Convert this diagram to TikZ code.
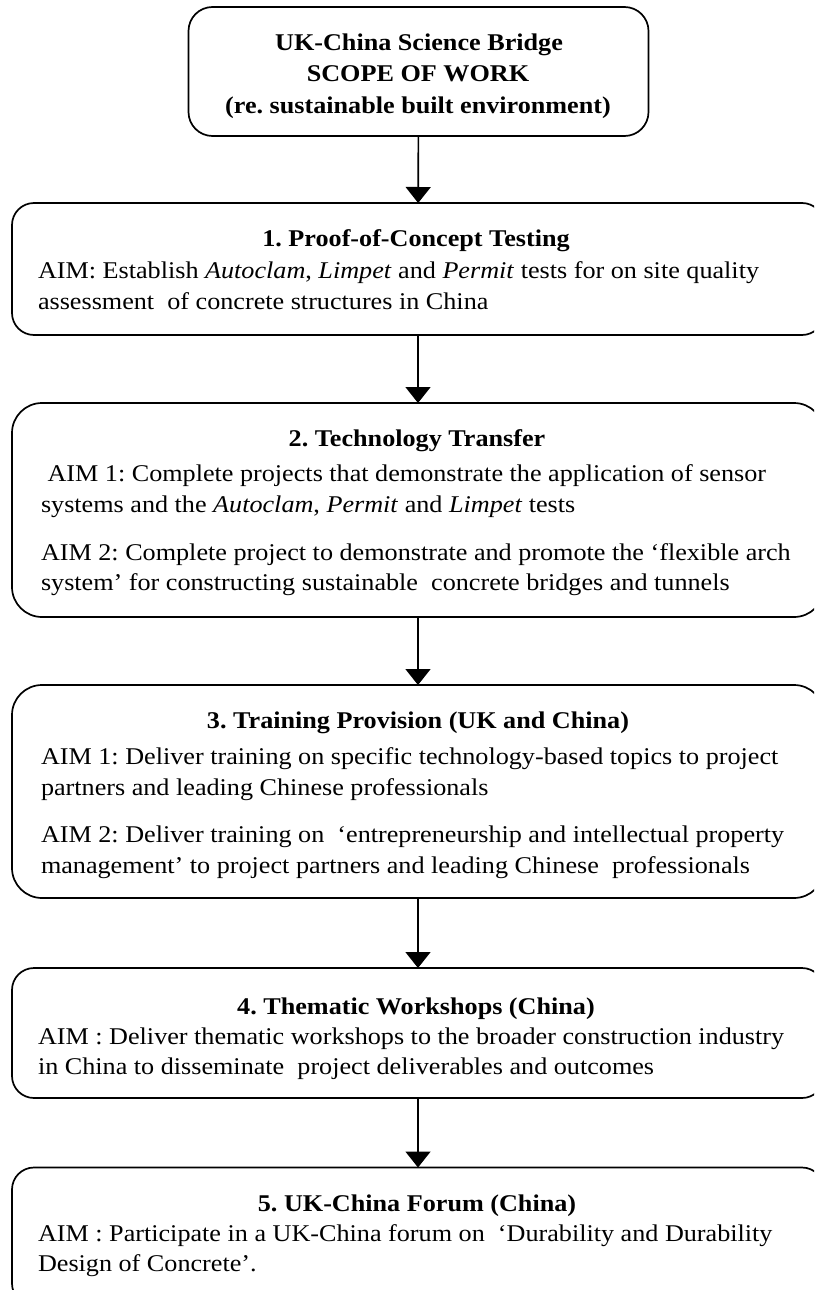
\documentclass[tikz,border=0pt]{standalone}
\usepackage{fontspec}
\setmainfont{Liberation Serif}[FakeStretch=1.09]
\usetikzlibrary{arrows.meta}
\frenchspacing
\begin{document}
\begin{tikzpicture}[x=1pt,y=-1pt,
  stage/.style={draw=black, line width=1.7pt, rounded corners=#1, inner sep=0pt, outer sep=0pt},
  stage/.default=22pt,
  flow/.style={draw=black, line width=1.6pt, -{Triangle[width=25pt,length=16pt]}},
  txt/.style={inner sep=0pt, outer sep=0pt, font=\fontsize{24}{30}\selectfont},
  head/.style={txt, anchor=base, font=\fontsize{24}{30}\selectfont\bfseries},
  body/.style={txt, anchor=base west}]
\useasboundingbox (0,0) rectangle (814,1290);
\clip (0,0) rectangle (814,1290);

% stage boxes
\node[stage=24pt, minimum width=460pt, minimum height=129pt] (top) at (418.5,71.5) {};
\node[stage, minimum width=812pt, minimum height=132pt] (b1) at (418,269) {};
\node[stage=30pt, minimum width=812pt, minimum height=214pt] (b2) at (418,510) {};
\node[stage=30pt, minimum width=812pt, minimum height=213pt] (b3) at (418,791.5) {};
\node[stage, minimum width=812pt, minimum height=130pt] (b4) at (418,1033) {};
\node[stage, minimum width=812pt, minimum height=138pt] (b5) at (418,1236.5) {};

% connectors
\draw[flow] (top) -- (b1);
\draw[flow] (b1) -- (b2);
\draw[flow] (b2) -- (b3);
\draw[flow] (b3) -- (b4);
\draw[flow] (b4) -- (b5);

% heading box
\node[head] (t1) at (419,50.5) {UK-China Science Bridge};
\node[head] (t2) at (418,81.5) {SCOPE OF WORK};
\node[head] (t3) at (418,113) {(re. sustainable built environment)};

% stage 1
\node[head] (h1) at (416,246) {1. Proof-of-Concept Testing};
\node[body] (l11) at (38,278.5) {AIM: Establish \textit{Autoclam}, \textit{Limpet} and \textit{Permit} tests for on site quality};
\node[body] (l12) at (38,309) {assessment\ \ of concrete structures in China};

% stage 2
\node[head] (h2) at (417,446) {2. Technology Transfer};
\node[body] (l21) at (41,481) {\ AIM 1: Complete projects that demonstrate the application of sensor};
\node[body] (l22) at (41,512) {systems and the \textit{Autoclam}, \textit{Permit} and \textit{Limpet} tests};
\node[body] (l23) at (41,560) {AIM 2: Complete project to demonstrate and promote the ‘flexible arch};
\node[body] (l24) at (41,590.5) {system’ for constructing sustainable\ \ concrete bridges and tunnels};

% stage 3
\node[head] (h3) at (418,728.5) {3. Training Provision (UK and China)};
\node[body] (l31) at (41,764) {AIM 1: Deliver training on specific technology-based topics to project};
\node[body] (l32) at (41,795) {partners and leading Chinese professionals};
\node[body] (l33) at (41,842) {AIM 2: Deliver training on\ \ ‘entrepreneurship and intellectual property};
\node[body] (l34) at (41,873) {management’ to project partners and leading Chinese\ \ professionals};

% stage 4
\node[head] (h4) at (416,1014) {4. Thematic Workshops (China)};
\node[body] (l41) at (38,1044) {AIM : Deliver thematic workshops to the broader construction industry};
\node[body] (l42) at (38,1074) {in China to disseminate\ \ project deliverables and outcomes};

% stage 5
\node[head] (h5) at (417,1211) {5. UK-China Forum (China)};
\node[body] (l51) at (38,1241.5) {AIM : Participate in a UK-China forum on\ \ ‘Durability and Durability};
\node[body] (l52) at (38,1271.5) {Design of Concrete’.};
\end{tikzpicture}
\end{document}
